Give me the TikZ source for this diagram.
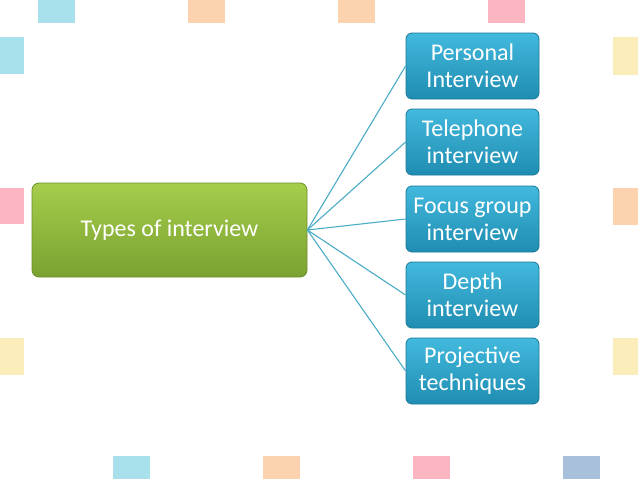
\documentclass[tikz,border=0pt]{standalone}
\usepackage{fontspec}
\setmainfont{Carlito}
\usepackage{xcolor}
\usetikzlibrary{positioning}

\definecolor{sqblue}{HTML}{A8E0EC}
\definecolor{sqorange}{HTML}{FDD3AF}
\definecolor{sqpink}{HTML}{FDB5C1}
\definecolor{sqyellow}{HTML}{FBEDB9}
\definecolor{sqslate}{HTML}{A9C0DC}
\definecolor{greentop}{HTML}{A6CD4B}
\definecolor{greenbot}{HTML}{79A231}
\definecolor{greenline}{HTML}{6A8F2B}
\definecolor{bluetop}{HTML}{42B9DD}
\definecolor{bluebot}{HTML}{1F8DB1}
\definecolor{blueline}{HTML}{1C7897}
\definecolor{linkcol}{HTML}{4BACC6}

\tikzset{
  rootbox/.style={draw=greenline, line width=0.8pt, rounded corners=7pt,
    top color=greentop, bottom color=greenbot, text=white,
    minimum width=275pt, minimum height=94pt,
    font=\fontsize{24}{27}\selectfont},
  leafbox/.style={draw=blueline, line width=0.8pt, rounded corners=6pt,
    top color=bluetop, bottom color=bluebot, text=white, align=center,
    minimum width=133pt, minimum height=66pt, inner sep=1pt,
    font=\fontsize{24}{27}\selectfont},
  link/.style={draw=linkcol, line width=1.1pt}
}

\begin{document}
\begin{tikzpicture}[x=1pt, y=-1pt]
    \useasboundingbox (0,0) rectangle (638,479);

    % Decorative squares
    \fill[sqblue]   (38,-10) rectangle (75,23);
    \fill[sqorange] (188,-10) rectangle (225,23);
    \fill[sqorange] (338,-10) rectangle (375,23);
    \fill[sqpink]   (488,-10) rectangle (525,23);

    \fill[sqblue]   (-13,37) rectangle (24,74);
    \fill[sqpink]   (-13,188) rectangle (24,224);
    \fill[sqyellow] (-13,338) rectangle (24,375);

    \fill[sqyellow] (613,37) rectangle (650,75);
    \fill[sqorange] (613,188) rectangle (650,225);
    \fill[sqyellow] (613,338) rectangle (650,375);

    \fill[sqblue]   (113,456) rectangle (150,490);
    \fill[sqorange] (263,456) rectangle (300,490);
    \fill[sqpink]   (413,456) rectangle (450,490);
    \fill[sqslate]  (563,456) rectangle (600,490);

    % Boxes
    \node[rootbox] (types) at (169.5,230) {Types of interview};

    \node[leafbox] (personal)   at (472.5,66)  {Personal\\Interview};
    \node[leafbox] (telephone)  at (472.5,142) {Telephone\\interview};
    \node[leafbox] (focus)      at (472.5,219) {Focus group\\interview};
    \node[leafbox] (depth)      at (472.5,295) {Depth\\interview};
    \node[leafbox] (projective) at (472.5,371) {Projective\\techniques};

    % Links
    \draw[link] (types.east) -- (personal.west);
    \draw[link] (types.east) -- (telephone.west);
    \draw[link] (types.east) -- (focus.west);
    \draw[link] (types.east) -- (depth.west);
    \draw[link] (types.east) -- (projective.west);
\end{tikzpicture}
\end{document}
